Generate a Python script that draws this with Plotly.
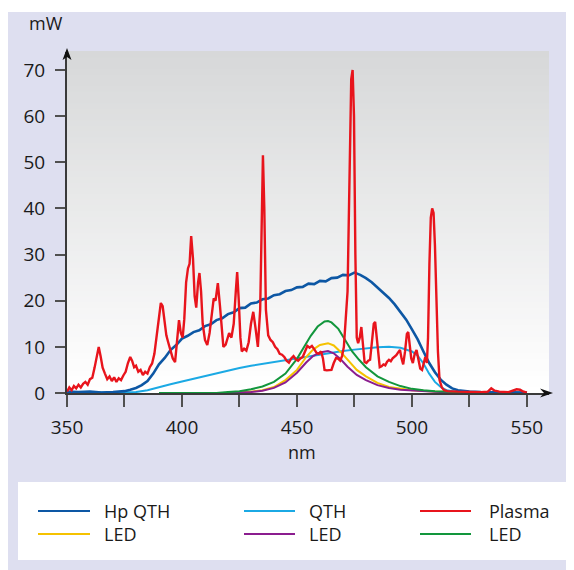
import plotly.graph_objects as go

# Spectral output of curing lights
hp_qth_nm = [350, 355, 360, 365, 370, 375, 377.5, 380, 382.5, 385, 387.5, 390, 392.5, 395, 397.5,
             400, 402.5, 405, 407.5, 410, 412.5, 415, 417.5, 420, 422.5, 425, 427.5, 430, 432.5,
             435, 437.5, 440, 442.5, 445, 447.5, 450, 452.5, 455, 457.5, 460, 462.5, 465, 467.5,
             470, 472.5, 475, 477.5, 480, 482.5, 485, 487.5, 490, 492.5, 495, 497.5, 500, 502.5,
             505, 507.5, 510, 512.5, 515, 517.5, 520, 525, 530, 540, 550]
hp_qth_mw = [0.3, 0.2, 0.3, 0.1, 0.2, 0.4, 0.7, 1.1, 1.7, 2.6, 4.2, 6.2, 7.6, 9.3, 10.4,
             11.8, 12.4, 13.2, 13.6, 14.5, 14.9, 15.8, 16.2, 17.1, 17.5, 18.4, 18.5, 19.4, 19.6,
             20.3, 20.5, 21.2, 21.4, 22.1, 22.3, 22.9, 23.0, 23.7, 23.6, 24.3, 24.2, 24.9, 25.0,
             25.6, 25.5, 26.1, 25.6, 24.9, 24.0, 22.9, 21.7, 20.6, 19.2, 17.6, 15.9, 13.8, 11.6,
             9.0, 6.5, 4.5, 2.9, 1.8, 1.0, 0.6, 0.3, 0.2, 0.1, 0.1]

qth_nm = [350, 375, 380, 385, 390, 395, 400, 405, 410, 415, 420, 425, 430, 435, 440, 445, 450,
          455, 460, 465, 470, 475, 480, 485, 490, 495, 500, 502.5, 505, 507.5, 510, 512.5, 515,
          520, 530, 550]
qth_mw = [0.0, 0.05, 0.2, 0.6, 1.3, 1.9, 2.5, 3.1, 3.7, 4.3, 4.8, 5.4, 5.9, 6.3, 6.8, 7.2, 7.6,
          7.9, 8.3, 8.7, 9.1, 9.4, 9.7, 9.9, 10.0, 9.8, 9.0, 8.1, 6.4, 4.2, 2.4, 1.3, 0.6,
          0.2, 0.1, 0.0]

plasma_nm = [350, 351, 352, 353, 354, 355, 356, 357, 358, 359, 360, 361, 362, 363, 363.8, 364.6,
             365.5, 366.5, 367.5, 368.5, 369.5, 370.5, 371.5, 372.5, 373.5, 374.5, 375.5, 376.5,
             377.5, 378.3, 379.2, 380, 381, 382, 383, 384, 385, 386, 387, 388, 389, 390, 390.8,
             391.6, 392.4, 393.2, 394, 395, 396, 397, 397.8, 398.7, 399.5, 400.3, 401, 401.8,
             402.6, 403.3, 404, 404.8, 405.5, 406.2, 407, 407.6, 408.3, 409, 410, 411, 412, 413,
             413.8, 414.6, 415.6, 416.5, 417.3, 418, 419, 420.5, 421.5, 422.5, 423.4, 424, 424.7,
             425.4, 426, 427, 428, 429, 430, 431, 432, 433, 434, 434.7, 435.2, 435.8, 436.5,
             437.5, 438.5, 439.5, 440.5, 441.5, 442.5, 443.5, 444.5, 445.5, 446.5, 447.5, 448.5,
             449.5, 450.5, 451.5, 452.5, 453.5, 454.5, 455.5, 456.5, 457.5, 458.5, 459.5, 460.5,
             461.3, 462, 463, 464, 465, 466, 467, 468, 468.8, 469.6, 470.4, 471.2, 472, 472.8,
             473.6, 474.2, 474.8, 475.4, 476, 476.6, 477.3, 478, 478.7, 479.4, 480.2, 481, 481.8,
             482.6, 483.4, 484, 484.7, 485.4, 486, 486.8, 487.6, 488.4, 489.2, 490, 490.8, 491.6,
             492.4, 493.2, 494, 494.8, 495.5, 496.2, 497, 497.8, 498.4, 499, 499.7, 500.4, 501.2,
             502, 502.8, 503.6, 504.4, 505.2, 505.8, 506.5, 507, 507.6, 508.2, 508.8, 509.4, 510,
             510.7, 511.3, 512, 513, 514, 515.5, 520, 525, 530, 533, 534.5, 536, 538, 542, 544.5,
             545.5, 547, 548, 550]
plasma_mw = [0.3, 1.2, 0.6, 1.5, 1.0, 1.8, 1.2, 2.0, 2.4, 1.8, 3.0, 3.3, 5.5, 8.5, 10.0, 8.0,
             5.5, 4.2, 3.0, 3.6, 2.6, 3.4, 2.4, 3.2, 2.8, 3.8, 4.6, 6.5,
             7.8, 7.0, 5.6, 5.9, 4.6, 5.0, 3.9, 4.6, 4.2, 5.6, 6.4, 8.5, 12.5, 17.5, 19.5,
             18.8, 15.5, 12.5, 11.0, 9.5, 7.5, 6.7, 10.5, 15.8, 13.0, 12.0, 16.0, 24.0,
             27.0, 28.0, 34.0, 29.0, 21.0, 18.5, 24.0, 26.0, 22.0, 15.0, 11.5, 10.4, 13.0, 17.0,
             20.5, 20.0, 23.8, 19.0, 13.0, 10.0, 10.5, 13.0, 12.0, 15.0, 22.0, 26.2, 20.0,
             12.0, 9.0, 9.6, 9.2, 11.0, 15.0, 17.6, 14.0, 10.0, 18.0, 40.0, 51.5, 40.0, 18.0,
             12.5, 11.5, 11.0, 10.0, 9.5, 8.5, 8.3, 7.8, 7.0, 6.6, 7.5, 8.0,
             7.3, 7.0, 7.5, 7.8, 9.0, 10.2, 9.8, 10.2, 9.5, 8.7, 8.5, 9.0,
             7.5, 5.0, 4.9, 5.0, 5.0, 6.5, 7.6, 7.4, 7.0, 8.0, 10.0, 16.0, 22.0, 45.0,
             68.0, 70.0, 60.0, 30.0, 12.0, 10.8, 12.0, 14.3, 11.0, 6.7, 6.5, 7.0, 7.2,
             11.0, 15.0, 15.4, 12.0, 7.5, 5.6, 5.8, 6.2, 6.0, 6.8, 7.2, 6.9, 7.5,
             7.8, 8.2, 8.8, 9.3, 7.5, 6.2, 9.0, 12.8, 13.2, 11.0, 7.5, 6.5, 8.5,
             9.3, 7.5, 5.3, 5.0, 6.5, 7.8, 6.5, 12.0, 28.0, 38.0, 40.0, 39.0, 32.0,
             20.0, 9.0, 2.8, 1.2, 0.6, 0.4, 0.3, 0.2, 0.2, 0.3, 1.0, 0.5, 0.3, 0.2, 0.6,
             0.8, 0.7, 0.4, 0.1]

led_green_nm = [390, 415, 420, 425, 430, 435, 440, 445, 450, 453, 456, 459, 462, 463.5, 465, 468,
                471, 474, 477, 480, 485, 490, 495, 500, 505, 510, 520, 530, 550]
led_green_mw = [0.0, 0.0, 0.2, 0.4, 0.8, 1.4, 2.4, 4.2, 7.4, 9.8, 12.4, 14.4, 15.5, 15.6, 15.3, 13.9,
                11.4, 9.0, 7.2, 5.6, 3.6, 2.4, 1.5, 0.9, 0.6, 0.4, 0.2, 0.1, 0.0]

led_yellow_nm = [390, 420, 430, 435, 440, 445, 450, 454, 457, 460, 463.5, 466, 469, 472, 476, 480,
                 485, 490, 495, 500, 510, 520, 550]
led_yellow_mw = [0.0, 0.0, 0.3, 0.6, 1.3, 2.8, 5.0, 7.8, 9.4, 10.4, 10.8, 10.3, 8.9, 7.2, 5.0, 3.6,
                 2.2, 1.3, 0.9, 0.6, 0.3, 0.15, 0.0]

led_purple_nm = [390, 420, 430, 435, 440, 445, 450, 454, 457, 460, 463.5, 466, 469, 472, 476, 480,
                 485, 490, 495, 500, 510, 520, 550]
led_purple_mw = [0.0, 0.0, 0.2, 0.5, 1.1, 2.3, 4.4, 6.6, 8.0, 8.8, 9.1, 8.6, 7.3, 5.7, 3.9, 2.8,
                 1.7, 1.1, 0.7, 0.5, 0.25, 0.1, 0.0]

x_ticks = [350, 375, 400, 425, 450, 475, 500, 525, 550]
x_tick_text = ["350", "", "400", "", "450", "", "500", "", "550"]
y_ticks = [0, 10, 20, 30, 40, 50, 60, 70]

# legend: three columns, two entries each (top, bottom)
legend_cols = [
    (("Hp QTH", "#0d57a4"), ("LED", "#f5c200")),
    (("QTH", "#1ba9e4"), ("LED", "#8b1d8f")),
    (("Plasma", "#e8141c"), ("LED", "#12963c")),
]

XMIN, XMAX = 350, 559.6
YMIN, YMAX = 0, 73.9

# the page puts the figure 8px in from the window corner; positions below are
# measured in window pixels and shifted back by that offset
OFF = 8
W, H = 574, 570
L, R, T, B = 67 - OFF, 549 - OFF, 52 - OFF, 393 - OFF


def px2x(px):
    return (px - OFF - L) / (R - L)


def px2y(py):
    return (B - (py - OFF)) / (B - T)


FONT = "Open Sans, Noto Sans, sans-serif"
TXT = "#1a1a1a"

fig = go.Figure()

series = [
    (qth_nm, qth_mw, "#1ba9e4", 2),
    (led_yellow_nm, led_yellow_mw, "#f5c200", 2),
    (led_purple_nm, led_purple_mw, "#8b1d8f", 2),
    (led_green_nm, led_green_mw, "#12963c", 2),
    (hp_qth_nm, hp_qth_mw, "#0d57a4", 2.6),
    (plasma_nm, plasma_mw, "#e8141c", 2.4),
]
for xs, ys, col, w in series:
    fig.add_trace(go.Scatter(x=xs, y=ys, mode="lines", line=dict(color=col, width=w),
                             showlegend=False, hoverinfo="skip"))

shapes = []
# lavender page background
shapes.append(dict(type="rect", xref="paper", yref="paper", x0=px2x(8), x1=px2x(W + 20),
                   y0=px2y(12), y1=px2y(H + 20), fillcolor="#dedff0", line_width=0, layer="below"))
# vertical gray-to-white gradient in the plot area
n = 60
top, bot = (215, 216, 217), (255, 255, 255)
for i in range(n):
    t = i / (n - 1)
    c = tuple(round(bot[k] + (top[k] - bot[k]) * t) for k in range(3))
    shapes.append(dict(type="rect", xref="x domain", yref="y domain", x0=0, x1=1,
                       y0=i / n, y1=(i + 1) / n + 0.003, fillcolor="rgb(%d,%d,%d)" % c,
                       line_width=0, layer="below"))
# axis arrowheads (paper-referenced so they are not clipped to the plot area)
shapes.append(dict(type="path", xref="paper", yref="paper", xsizemode="pixel", ysizemode="pixel",
                   xanchor=0, yanchor=1, path="M0,4 L-4.5,-8 L0,-5 L4.5,-8 Z",
                   fillcolor="#111", line_width=0))
shapes.append(dict(type="path", xref="paper", yref="paper", xsizemode="pixel", ysizemode="pixel",
                   xanchor=1, yanchor=0, path="M4,0 L-9,4.5 L-5,0 L-9,-4.5 Z",
                   fillcolor="#111", line_width=0))
# legend box
shapes.append(dict(type="rect", xref="paper", yref="paper", x0=px2x(18), x1=px2x(571),
                   y0=px2y(482), y1=px2y(560), fillcolor="white", line_width=0))

annotations = [
    dict(text="mW", xref="paper", yref="paper", x=px2x(27), y=px2y(23), xanchor="left",
         yanchor="middle", showarrow=False, font=dict(size=18, color=TXT, family=FONT)),
    dict(text="nm", xref="paper", yref="paper", x=px2x(302), y=px2y(452), xanchor="center",
         yanchor="middle", showarrow=False, font=dict(size=18, color=TXT, family=FONT)),
]

col_line = [(38, 90, 102), (244, 295, 307), (420, 471, 487)]
row_y = [511, 534]
for (x0, x1, xt), entries in zip(col_line, legend_cols):
    for ry, (label, col) in zip(row_y, entries):
        shapes.append(dict(type="line", xref="paper", yref="paper", x0=px2x(x0), x1=px2x(x1),
                           y0=px2y(ry), y1=px2y(ry), line=dict(color=col, width=2.2)))
    annotations.append(dict(text="<br>".join(lbl for lbl, _ in entries), xref="paper", yref="paper",
                            x=px2x(xt), y=px2y(sum(row_y) / 2), xanchor="left", yanchor="middle",
                            align="left", showarrow=False,
                            font=dict(size=18, color=TXT, family=FONT)))

fig.update_layout(
    width=W, height=H,
    margin=dict(l=L, r=W - R, t=T, b=H - B, pad=0),
    paper_bgcolor="white",
    plot_bgcolor="white",
    font=dict(family=FONT, size=19, color=TXT),
    shapes=shapes,
    annotations=annotations,
    showlegend=False,
)
fig.update_xaxes(range=[XMIN, XMAX], tickvals=x_ticks, ticktext=x_tick_text, ticks="outside",
                 ticklen=12, tickwidth=1.5, tickcolor="#505050", showline=True, linecolor="#3a3a3a",
                 linewidth=2, showgrid=False, zeroline=False, ticklabelstandoff=4,
                 tickfont=dict(size=19, color=TXT))
fig.update_yaxes(range=[YMIN, YMAX], tickvals=y_ticks, ticks="outside", ticklen=10, tickwidth=1.5,
                 tickcolor="#505050", showline=True, linecolor="#3a3a3a", linewidth=2,
                 showgrid=False, zeroline=False, ticklabelstandoff=6,
                 tickfont=dict(size=19, color=TXT))

fig.write_html("out.html")
